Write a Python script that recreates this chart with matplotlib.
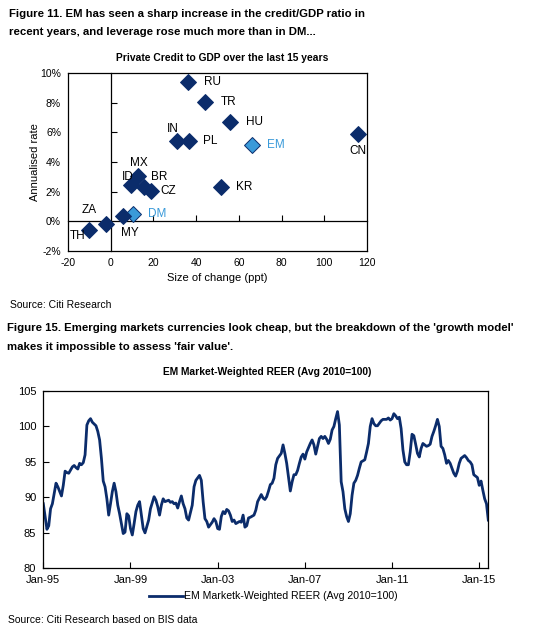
import matplotlib
matplotlib.use("Agg")
import matplotlib.pyplot as plt

plt.rcParams['font.family'] = ['Liberation Sans', 'DejaVu Sans']
plt.rcParams['axes.unicode_minus'] = False

NAVY = '#0b2c6b'
LIGHT = '#3a9ad9'

# ---- Figure 11 data: private credit to GDP
countries = ['RU', 'TR', 'HU', 'IN', 'PL', 'EM', 'MX', 'ID', 'BR', 'CZ', 'KR', 'DM', 'MY', 'ZA', 'TH', 'CN']
size_change = [36.3, 44.2, 55.8, 31.2, 36.6, 66.2, 12.6, 9.5, 15.8, 18.8, 51.5, 10.5, 5.7, -2.0, -10.3, 115.6]
annual_rate = [9.39, 8.02, 6.73, 5.41, 5.41, 5.14, 3.07, 2.45, 2.34, 2.05, 2.30, 0.48, 0.36, -0.20, -0.61, 5.89]
aggregates = ['EM', 'DM']

# ---- Figure 15 data: EM market-weighted REER, months since Jan-95
months = [0, 2, 3, 4, 5, 7, 8, 10, 11, 12, 13, 14, 16, 17, 18, 19, 20, 21, 22, 23,
          24, 25, 26, 27, 29, 30, 31, 32, 33, 34, 35, 36, 37, 38, 39, 40, 41, 42, 43, 44,
          45, 46, 47, 48, 49, 50, 51, 52, 53, 54, 55, 56, 58, 59, 61, 62, 63, 64, 65, 66,
          67, 69, 70, 71, 72, 73, 74, 75, 76, 77, 78, 79, 80, 82, 83, 84, 86, 87, 88, 89,
          90, 91, 93, 94, 95, 96, 97, 98, 99, 100, 101, 102, 103, 104, 105, 106, 108, 109, 110, 111,
          112, 113, 114, 116, 117, 118, 120, 121, 122, 123, 124, 125, 126, 127, 128, 129, 131, 132, 133, 134,
          135, 136, 137, 138, 139, 140, 141, 142, 143, 144, 145, 147, 148, 149, 150, 151, 152, 153, 154, 155,
          156, 157, 158, 159, 160, 161, 162, 163, 164, 165, 166, 167, 168, 169, 170, 171, 172, 173, 174, 175,
          177, 178, 179, 180, 181, 182, 183, 184, 186, 187, 188, 189, 190, 191, 192, 193, 194, 195, 196, 197,
          198, 199, 200, 201, 202, 203, 204, 205, 206, 207, 208, 209, 210, 211, 212, 213, 214, 215, 216, 217,
          218, 219, 220, 221, 222, 223, 224, 225, 226, 227, 228, 229, 230, 232, 233, 234, 235, 236, 237, 238,
          239, 240, 241, 242, 243, 244, 245]
reer = [89.1, 85.5, 86.0, 88.4, 89.1, 92.0, 91.5, 90.2, 91.7, 93.7, 93.5, 93.4, 94.3, 94.5, 94.2, 94.0, 94.8, 94.6, 94.9, 96.0,
        100.2, 100.8, 101.1, 100.6, 100.1, 99.3, 98.1, 95.5, 92.3, 91.5, 89.8, 87.5, 89.1, 90.8, 92.0, 90.8, 88.9, 87.7, 86.3, 84.9,
        85.1, 87.7, 87.4, 85.6, 84.7, 86.3, 88.0, 88.9, 89.4, 87.5, 85.6, 85.0, 86.8, 88.4, 90.1, 89.6, 88.7, 87.5, 88.9, 89.8,
        89.4, 89.6, 89.3, 89.4, 89.1, 89.2, 88.5, 89.4, 90.2, 89.1, 88.4, 87.1, 86.8, 88.9, 91.5, 92.4, 93.1, 92.4, 89.4, 87.0,
        86.6, 85.8, 86.5, 87.0, 86.6, 85.6, 85.5, 87.3, 88.0, 87.7, 88.3, 88.1, 87.5, 86.6, 86.8, 86.3, 86.6, 86.5, 87.5, 85.8,
        86.0, 87.1, 87.2, 87.5, 88.2, 89.4, 90.4, 89.9, 89.7, 90.1, 90.9, 91.8, 92.0, 92.7, 94.6, 95.5, 96.2, 97.4, 96.2, 94.8,
        92.9, 90.9, 92.2, 93.2, 93.2, 93.8, 94.8, 95.7, 96.1, 95.4, 96.4, 97.6, 98.1, 97.4, 96.1, 97.2, 98.3, 98.6, 98.3, 98.6,
        98.2, 97.6, 98.2, 99.5, 100.0, 101.1, 102.1, 100.2, 92.2, 90.8, 88.4, 87.3, 86.6, 87.7, 90.3, 92.0, 92.4, 93.1, 94.1, 95.0,
        95.3, 96.4, 97.6, 100.0, 101.1, 100.4, 100.1, 100.1, 100.8, 101.0, 101.0, 101.0, 101.2, 100.9, 101.1, 101.8, 101.5, 101.1, 101.3, 99.7,
        96.7, 95.0, 94.6, 94.6, 96.4, 98.9, 98.7, 97.5, 96.2, 95.7, 96.9, 97.6, 97.4, 97.2, 97.3, 97.5, 98.6, 99.3, 100.1, 101.0,
        100.0, 97.2, 96.9, 96.0, 94.8, 95.2, 94.8, 94.1, 93.4, 93.0, 93.7, 94.8, 95.5, 95.9, 95.6, 95.2, 95.0, 94.6, 93.2, 93.0,
        92.8, 91.7, 92.3, 91.0, 89.8, 89.1, 86.8]
date_ticks = [0, 48, 96, 144, 192, 240]
date_labels = ['Jan-95', 'Jan-99', 'Jan-03', 'Jan-07', 'Jan-11', 'Jan-15']

W, H = 534, 630
fig = plt.figure(figsize=(W / 100, H / 100), dpi=100)

def rect(l, t, r, b):
    return [l / W, 1 - b / H, (r - l) / W, (b - t) / H]

def ftext(x, y, s, **kw):
    fig.text(x / W, 1 - y / H, s, **kw)

# ---------------- Figure 11 ----------------
ftext(9, 14, 'Figure 11. EM has seen a sharp increase in the credit/GDP ratio in',
      fontsize=8.2, fontweight='bold', va='center')
ftext(9, 32, 'recent years, and leverage rose much more than in DM...',
      fontsize=8.2, fontweight='bold', va='center')
ftext(222, 58, 'Private Credit to GDP over the last 15 years',
      fontsize=7.4, fontweight='bold', ha='center', va='center')

ax = fig.add_axes(rect(68, 73, 367, 251))
ax.set_xlim(-20, 120)
ax.set_ylim(-2, 10)
ax.set_xticks(range(-20, 121, 20))
ax.set_yticks(range(-2, 11, 2))
ax.set_yticklabels([f'{v}%' for v in range(-2, 11, 2)])
ax.tick_params(length=0, labelsize=7.5, pad=5)
for s in ax.spines.values():
    s.set_linewidth(0.9)
ax.set_xlabel('Size of change (ppt)', fontsize=8, labelpad=4)
ax.set_ylabel('Annualised rate', fontsize=8, labelpad=0)

# zero lines with ticks
ax0 = fig.add_axes(rect(68, 73, 367, 251), facecolor='none')
ax0.set_xlim(-20, 120)
ax0.set_ylim(-2, 10)
ax0.spines['top'].set_visible(False)
ax0.spines['right'].set_visible(False)
ax0.spines['left'].set_position(('data', 0))
ax0.spines['bottom'].set_position(('data', 0))
ax0.spines['left'].set_linewidth(0.9)
ax0.spines['bottom'].set_linewidth(0.9)
ax0.set_xticks([20, 40, 60, 80, 100])
ax0.set_yticks([2, 4, 6, 8])
ax0.tick_params(direction='in', length=4, width=0.8, labelbottom=False, labelleft=False)

label_off = {'RU': (11, 0, 'left'), 'TR': (11, 0, 'left'), 'HU': (11.5, 0, 'left'),
             'IN': (-3, 9, 'center'), 'PL': (10.5, 0, 'left'), 'EM': (11, 0, 'left'),
             'MX': (1, 9.5, 'center'), 'ID': (-2.5, 6, 'center'), 'BR': (5, 7, 'left'),
             'CZ': (7, 0, 'left'), 'KR': (11, 0, 'left'), 'DM': (11, 0, 'left'),
             'MY': (5, -12.5, 'center'), 'ZA': (-12.5, 10, 'center'), 'TH': (-8, -4, 'center'),
             'CN': (0, -12, 'center')}

for c, x, y in zip(countries, size_change, annual_rate):
    agg = c in aggregates
    ax0.plot(x, y, marker='D', ms=8.5, color=LIGHT if agg else NAVY,
             mec=NAVY, mew=0.7, zorder=3)
    dx, dy, ha = label_off[c]
    ax0.annotate(c, (x, y), xytext=(dx, dy), textcoords='offset points',
                 ha=ha, va='center', fontsize=8.5, color=LIGHT if agg else 'black')

ftext(10, 305, 'Source: Citi Research', fontsize=7.5, va='center')

# ---------------- Figure 15 ----------------
ftext(7, 328, "Figure 15. Emerging markets currencies look cheap, but the breakdown of the 'growth model'",
      fontsize=8.2, fontweight='bold', va='center')
ftext(7, 347, "makes it impossible to assess 'fair value'.",
      fontsize=8.2, fontweight='bold', va='center')
ftext(267, 372, 'EM Market-Weighted REER (Avg 2010=100)',
      fontsize=7.4, fontweight='bold', ha='center', va='center')

ax2 = fig.add_axes(rect(43.3, 391, 488.3, 568.3))
ax2.plot(months, reer, color=NAVY, lw=2, label='EM Marketk-Weighted REER (Avg 2010=100)')
ax2.set_xlim(0, 245)
ax2.set_ylim(80, 105)
ax2.set_yticks(range(80, 106, 5))
ax2.set_xticks(date_ticks)
ax2.set_xticklabels(date_labels)
ax2.tick_params(direction='in', length=4, width=0.8, labelsize=8, pad=5)
for s in ax2.spines.values():
    s.set_linewidth(0.9)
ax2.legend(loc='upper center', bbox_to_anchor=(0.517, -0.1), frameon=False,
           fontsize=7.6, handlelength=3.3, handletextpad=0.1, borderpad=0)

ftext(8, 620, 'Source: Citi Research based on BIS data', fontsize=7.5, va='center')

fig.savefig('out.png', dpi=100)
